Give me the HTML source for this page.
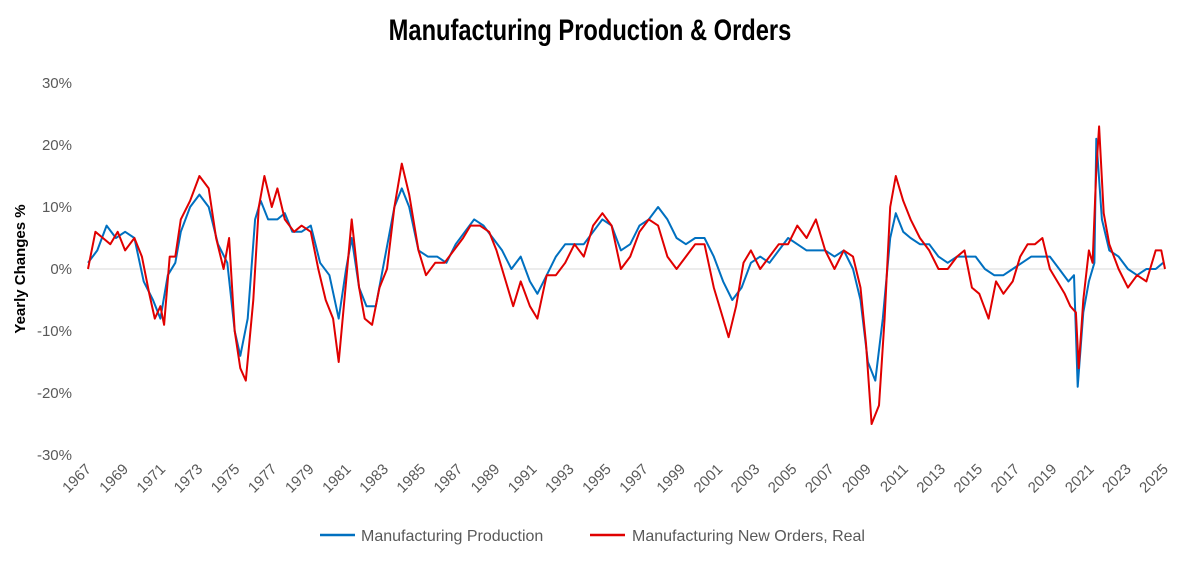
<!DOCTYPE html>
<html><head><meta charset="utf-8">
<style>
body{margin:0;background:#fff;width:1197px;height:562px;overflow:hidden;font-family:"Liberation Sans",sans-serif}
</style></head>
<body>
<svg id="chart" width="1197" height="562" xmlns="http://www.w3.org/2000/svg">
<text x="590" y="40" text-anchor="middle" font-family="Liberation Sans Narrow, Liberation Sans, sans-serif" font-weight="bold" font-size="30" transform="translate(590,0) scale(0.79,1) translate(-590,0)" fill="#000">Manufacturing Production &amp; Orders</text>
<text transform="translate(25,269) rotate(-90)" text-anchor="middle" font-weight="bold" font-size="15" fill="#000">Yearly Changes %</text>
<g id="yticks"></g><g id="xticks"></g><g id="series"></g>
<g>
<line x1="320" y1="535" x2="355" y2="535" stroke="#0070c0" stroke-width="2.5"/>
<text x="361" y="541" font-size="16" fill="#595959">Manufacturing Production</text>
<line x1="590" y1="535" x2="625" y2="535" stroke="#e00000" stroke-width="2.5"/>
<text x="632" y="541" font-size="16" fill="#595959">Manufacturing New Orders, Real</text>
</g>
</svg>
<script>
const yTicks=[30,20,10,0,-10,-20,-30];
const xYears=[1967,1969,1971,1973,1975,1977,1979,1981,1983,1985,1987,1989,1991,1993,1995,1997,1999,2001,2003,2005,2007,2009,2011,2013,2015,2017,2019,2021,2023,2025];
const prodT=[1967.0,1967.5,1968.0,1968.5,1969.0,1969.5,1970.0,1970.5,1970.9,1971.3,1971.7,1972.0,1972.5,1973.0,1973.5,1974.0,1974.5,1974.9,1975.2,1975.6,1976.0,1976.3,1976.7,1977.2,1977.6,1978.0,1978.5,1979.0,1979.5,1980.0,1980.5,1980.9,1981.2,1981.6,1982.0,1982.5,1983.0,1983.5,1983.9,1984.3,1984.8,1985.3,1985.8,1986.3,1986.8,1987.3,1987.8,1988.3,1988.8,1989.3,1989.8,1990.3,1990.8,1991.2,1991.7,1992.2,1992.7,1993.2,1993.7,1994.2,1994.7,1995.2,1995.7,1996.2,1996.7,1997.2,1997.7,1998.2,1998.7,1999.2,1999.7,2000.2,2000.7,2001.2,2001.7,2002.2,2002.7,2003.2,2003.7,2004.2,2004.7,2005.2,2005.7,2006.2,2006.7,2007.2,2007.7,2008.2,2008.6,2009.0,2009.4,2009.8,2010.2,2010.5,2010.9,2011.3,2011.8,2012.3,2012.8,2013.3,2013.8,2014.3,2014.8,2015.3,2015.8,2016.3,2016.8,2017.3,2017.8,2018.3,2018.8,2019.3,2019.8,2020.1,2020.3,2020.6,2020.9,2021.2,2021.3,2021.6,2022.0,2022.5,2023.0,2023.5,2024.0,2024.5,2024.9];
const prodV=[1,3,7,5,6,5,-2,-5,-8,-1,1,6,10,12,10,4,1,-10,-14,-8,8,11,8,8,9,6,6,7,1,-1,-8,0,5,-3,-6,-6,2,10,13,10,3,2,2,1,4,6,8,7,5,3,0,2,-2,-4,-1,2,4,4,4,6,8,7,3,4,7,8,10,8,5,4,5,5,2,-2,-5,-3,1,2,1,3,5,4,3,3,3,2,3,0,-5,-15,-18,-8,5,9,6,5,4,4,2,1,2,2,2,0,-1,-1,0,1,2,2,2,0,-2,-1,-19,-7,-2,1,21,8,3,2,0,-1,0,0,1];
const ordT=[1967.0,1967.4,1967.8,1968.2,1968.6,1969.0,1969.5,1969.9,1970.3,1970.6,1970.9,1971.1,1971.4,1971.7,1972.0,1972.5,1973.0,1973.5,1973.9,1974.3,1974.6,1974.9,1975.2,1975.5,1975.9,1976.2,1976.5,1976.9,1977.2,1977.6,1978.1,1978.5,1979.0,1979.4,1979.8,1980.2,1980.5,1980.9,1981.2,1981.6,1981.9,1982.3,1982.7,1983.1,1983.5,1983.9,1984.3,1984.8,1985.2,1985.7,1986.2,1986.7,1987.2,1987.6,1988.1,1988.6,1989.0,1989.5,1989.9,1990.3,1990.8,1991.2,1991.7,1992.2,1992.7,1993.2,1993.7,1994.2,1994.7,1995.2,1995.7,1996.2,1996.7,1997.2,1997.7,1998.2,1998.7,1999.2,1999.7,2000.2,2000.7,2001.2,2001.5,2001.9,2002.3,2002.7,2003.2,2003.7,2004.2,2004.7,2005.2,2005.7,2006.2,2006.7,2007.2,2007.7,2008.2,2008.6,2008.9,2009.2,2009.6,2009.9,2010.2,2010.5,2010.9,2011.3,2011.8,2012.3,2012.8,2013.3,2013.8,2014.2,2014.6,2015.0,2015.5,2015.9,2016.3,2016.8,2017.2,2017.6,2018.0,2018.4,2018.8,2019.2,2019.6,2019.9,2020.2,2020.35,2020.6,2020.9,2021.1,2021.3,2021.45,2021.7,2022.0,2022.5,2023.0,2023.5,2024.0,2024.5,2024.8,2025.0];
const ordV=[0,6,5,4,6,3,5,2,-4,-8,-6,-9,2,2,8,11,15,13,5,0,5,-10,-16,-18,-5,10,15,10,13,8,6,7,6,0,-5,-8,-15,-2,8,-3,-8,-9,-3,0,10,17,12,3,-1,1,1,3,5,7,7,6,3,-2,-6,-2,-6,-8,-1,-1,1,4,2,7,9,7,0,2,6,8,7,2,0,2,4,4,-3,-8,-11,-6,1,3,0,2,4,4,7,5,8,3,0,3,2,-3,-12,-25,-22,-8,10,15,11,8,5,3,0,0,2,3,-3,-4,-8,-2,-4,-2,2,4,4,5,0,-2,-4,-6,-7,-16,-5,3,1,16,23,9,4,0,-3,-1,-2,3,3,0];
const NS="http://www.w3.org/2000/svg";
const x=t=>88+(t-1967)*(1165-88)/58;
const y=v=>269-v*6.2;
const yg=document.getElementById('yticks');
yTicks.forEach(v=>{
  const t=document.createElementNS(NS,'text');
  
  
  t.setAttribute('x',72);t.setAttribute('y',y(v)+5);t.setAttribute('text-anchor','end');
  t.setAttribute('font-size','15');t.setAttribute('fill','#595959');
  t.textContent=v+'%';yg.appendChild(t);
});
const zl=document.createElementNS(NS,'line');


zl.setAttribute('x1',88);zl.setAttribute('x2',1165);zl.setAttribute('y1',y(0));zl.setAttribute('y2',y(0));
zl.setAttribute('stroke','#d9d9d9');zl.setAttribute('stroke-width','1');yg.appendChild(zl);
const xg=document.getElementById('xticks');
xYears.forEach(yr=>{
  const t=document.createElementNS(NS,'text');
  
  
  const px=x(yr)+4,py=470;
  t.setAttribute('transform','translate('+px+','+py+') rotate(-45)');
  t.setAttribute('text-anchor','end');t.setAttribute('font-size','15');t.setAttribute('fill','#595959');
  t.textContent=yr;xg.appendChild(t);
});
function line(T,V,col,name){
  const p=document.createElementNS(NS,'path');
  
  
  p.setAttribute('d',T.map((t,i)=>(i?'L':'M')+x(t).toFixed(1)+','+y(V[i]).toFixed(1)).join(''));
  p.setAttribute('fill','none');p.setAttribute('stroke',col);p.setAttribute('stroke-width','2');p.setAttribute('stroke-linejoin','round');
  document.getElementById('series').appendChild(p);
}
line(prodT,prodV,'#0070c0','production-line');
line(ordT,ordV,'#e00000','new-orders-line');
</script>
</body></html>
